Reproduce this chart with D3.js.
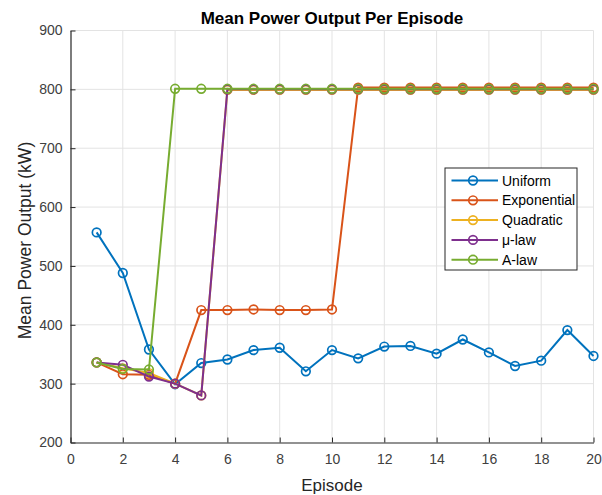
<!DOCTYPE html>
<html>
<head>
<meta charset="utf-8">
<script src="https://cdn.jsdelivr.net/npm/d3@7"></script>
<style>
  body { margin: 0; background: #fff; }
  text { font-family: "Liberation Sans", Arial, sans-serif; }
</style>
</head>
<body>
<div id="my_chart"></div>
<script>

// data
var episodes = [1,2,3,4,5,6,7,8,9,10,11,12,13,14,15,16,17,18,19,20];
var uniform     = [557,488,358,299,335,341,357,361,321,357,343,363,364,351,375,353,330,339,391,347];
var exponential = [336,316,315,300,425,425,426,425,425,426,803,803,803,803,803,803,803,803,803,803];
var quadratic   = [336,326,318,300,280,799,799,799,799,799,799,799,799,799,799,799,799,799,799,799];
var mulaw       = [336,332,312,300,280,800,800,800,800,800,800,800,800,800,800,800,800,800,800,800];
var alaw        = [336,325,324,801,801,801,801,801,801,801,801,801,801,801,801,801,801,801,801,801];
var seriesNames = ["Uniform","Exponential","Quadratic","\u03bc-law","A-law"];
var seriesColors = ["#0072BD","#D95319","#EDB120","#7E2F8E","#77AC30"];
var xTicks = [0,2,4,6,8,10,12,14,16,18,20];
var yTicks = [200,300,400,500,600,700,800,900];

var allSeries = [uniform, exponential, quadratic, mulaw, alaw];

// set the dimensions and margins of the graph
var margin = {top: 30.5, right: 8.5, bottom: 52.5, left: 70.5},
  width = 602 - margin.left - margin.right,
  height = 495 - margin.top - margin.bottom;

var svg = d3.select("#my_chart")
  .append("svg")
    .attr("width", 602)
    .attr("height", 495)
  .append("g")
    .attr("transform", "translate(" + margin.left + "," + margin.top + ")");

var x = d3.scaleLinear().domain([0, 20]).range([0, width]);
var y = d3.scaleLinear().domain([200, 900]).range([height, 0]);

// grid
svg.append("g")
  .selectAll("line")
  .data(xTicks.slice(1))
  .enter()
  .append("line")
    .attr("x1", function(d){ return x(d); })
    .attr("x2", function(d){ return x(d); })
    .attr("y1", 0)
    .attr("y2", height)
    .style("stroke", "#e3e3e3")
    .style("stroke-width", 1);

svg.append("g")
  .selectAll("line")
  .data(yTicks.slice(1))
  .enter()
  .append("line")
    .attr("x1", 0)
    .attr("x2", width)
    .attr("y1", function(d){ return y(d); })
    .attr("y2", function(d){ return y(d); })
    .style("stroke", "#e3e3e3")
    .style("stroke-width", 1);

// x axis (ticks point inward)
var xAxis = svg.append("g")
  .attr("transform", "translate(0," + height + ")")
  .call(d3.axisBottom(x).tickValues(xTicks).tickSize(-5).tickPadding(12).tickSizeOuter(0));
xAxis.selectAll("text").style("font-size", "14px").style("fill", "#404040");

// y axis
var yAxis = svg.append("g")
  .call(d3.axisLeft(y).tickValues(yTicks).tickSize(-5).tickPadding(8).tickSizeOuter(0));
yAxis.selectAll("text").style("font-size", "14px").style("fill", "#404040");

svg.selectAll(".domain").style("stroke", "#262626").style("stroke-width", 1.2);
svg.selectAll(".tick line").style("stroke", "#262626");

// labels
svg.append("text")
  .attr("x", width / 2)
  .attr("y", height + 48)
  .attr("text-anchor", "middle")
  .style("font-size", "17px")
  .style("fill", "#262626")
  .text("Episode");

svg.append("text")
  .attr("transform", "rotate(-90)")
  .attr("x", -height / 2 - 4)
  .attr("y", -40)
  .attr("text-anchor", "middle")
  .style("font-size", "17.5px")
  .style("fill", "#262626")
  .text("Mean Power Output (kW)");

svg.append("text")
  .attr("x", width / 2)
  .attr("y", -7)
  .attr("text-anchor", "middle")
  .style("font-size", "17px")
  .style("font-weight", "bold")
  .style("fill", "#000")
  .text("Mean Power Output Per Episode");

// lines and markers
var line = d3.line()
  .x(function(d, i){ return x(episodes[i]); })
  .y(function(d){ return y(d); });

allSeries.forEach(function(vals, k) {
  svg.append("path")
    .datum(vals)
    .attr("d", line)
    .style("fill", "none")
    .style("stroke", seriesColors[k])
    .style("stroke-width", 2);

  svg.append("g")
    .selectAll("circle")
    .data(vals)
    .enter()
    .append("circle")
      .attr("cx", function(d, i){ return x(episodes[i]); })
      .attr("cy", function(d){ return y(d); })
      .attr("r", 4.3)
      .style("fill", "none")
      .style("stroke", seriesColors[k])
      .style("stroke-width", 1.7);
});

// legend
var lx = 445 - margin.left, ly = 168 - margin.top;
var legend = svg.append("g").attr("transform", "translate(" + lx + "," + ly + ")");
legend.append("rect")
  .attr("width", 132)
  .attr("height", 102)
  .style("fill", "#fff")
  .style("stroke", "#262626")
  .style("stroke-width", 1);

seriesNames.forEach(function(name, k) {
  var yy = 12.5 + k * 19.8;
  legend.append("line")
    .attr("x1", 6.5).attr("x2", 53)
    .attr("y1", yy).attr("y2", yy)
    .style("stroke", seriesColors[k])
    .style("stroke-width", 2);
  legend.append("circle")
    .attr("cx", 28).attr("cy", yy).attr("r", 4.3)
    .style("fill", "none")
    .style("stroke", seriesColors[k])
    .style("stroke-width", 1.7);
  legend.append("text")
    .attr("x", 57)
    .attr("y", yy + 5)
    .style("font-size", "14px")
    .style("fill", "#000")
    .text(name);
});

</script>
</body>
</html>
